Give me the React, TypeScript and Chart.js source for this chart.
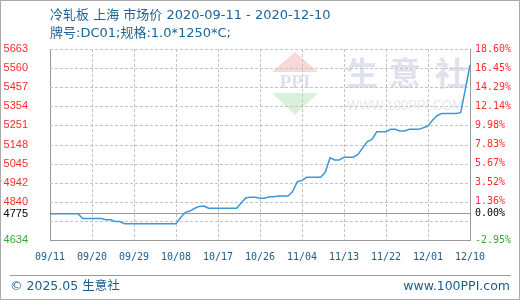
import React, { useEffect, useRef } from "react";
import { Chart, registerables } from "chart.js";

Chart.register(...registerables);

// ---- data ----
const titleLine1 = "冷轧板 上海 市场价 2020-09-11 - 2020-12-10";
const titleLine2 = "牌号:DC01;规格:1.0*1250*C;";
const footerLeft = "© 2025.05 生意社";
const footerRight = "www.100PPI.com";
const startDate = "2020-09-11";

// daily price, 2020-09-11 .. 2020-12-10 (91 days)
const prices = [
  4775, 4775, 4775, 4775, 4775, 4775, 4775,
  4750, 4750, 4750, 4750, 4750,
  4743, 4743,
  4733, 4733,
  4722, 4722, 4722, 4722, 4722, 4722, 4722, 4722, 4722, 4722, 4722, 4722,
  4755, 4783, 4790, 4805, 4815, 4817,
  4805, 4805, 4805, 4805, 4805, 4805, 4805,
  4835, 4862,
  4864, 4864, 4859, 4859, 4867, 4867,
  4871, 4871, 4871,
  4895, 4948, 4955,
  4972, 4972, 4972, 4972,
  5000, 5077,
  5065, 5065, 5080, 5080, 5080,
  5095, 5130, 5164, 5176,
  5217, 5217, 5217,
  5230, 5230, 5221, 5221, 5230, 5230, 5230,
  5239, 5248, 5280, 5305,
  5316, 5316, 5316, 5316,
  5320, 5446, 5577,
];

const baseValue = 4775;
const baseLabelLeft = "4775";
const baseLabelRight = "0.00%";
const yTickValues = [4634, 4736.9, 4839.8, 4942.7, 5045.6, 5148.5, 5251.4, 5354.3, 5457.2, 5560.1, 5663];
const yTickLabelsLeft = ["4634", "", "4840", "4942", "5045", "5148", "5251", "5354", "5457", "5560", "5663"];
const yTickLabelsRight = ["-2.95%", "", "1.36%", "3.52%", "5.67%", "7.83%", "9.98%", "12.14%", "14.29%", "16.45%", "18.60%"];
const xTickStep = 9;

// ---- helpers ----
function dayLabel(day: number): string {
  const d = new Date(startDate + "T00:00:00Z");
  d.setUTCDate(d.getUTCDate() + day);
  const m = String(d.getUTCMonth() + 1).padStart(2, "0");
  const dd = String(d.getUTCDate()).padStart(2, "0");
  return m + "/" + dd;
}

const RED = "#ff2b2b";
const GREEN = "#33aa33";
const BLACK = "#000000";
const BLUE_TEXT = "#1a5c8c";
const GRID = "#c4c4c4";

const isBase = (v: number) => Math.abs(v - baseValue) < 0.01;
const isMin = (v: number) => Math.abs(v - yTickValues[0]) < 0.01;

function tickColor(v: number) {
  if (isBase(v)) return BLACK;
  if (isMin(v)) return GREEN;
  return RED;
}

function labelFor(v: number, right: boolean) {
  if (isBase(v)) return right ? baseLabelRight : baseLabelLeft;
  const i = yTickValues.findIndex((t) => Math.abs(t - v) < 0.01);
  if (i < 0) return "";
  return right ? yTickLabelsRight[i] : yTickLabelsLeft[i];
}

function buildYTicks(scale: any) {
  const vals = [...yTickValues, baseValue].sort((a, b) => a - b);
  scale.ticks = vals.map((v) => ({ value: v }));
}

const watermarkPlugin = {
  id: "watermark",
  beforeDraw(chart: any) {
    const ctx = chart.ctx;
    ctx.save();
    ctx.fillStyle = "#ffffff";
    ctx.fillRect(0, 0, chart.width, chart.height);
    ctx.fillStyle = "#f8d8d8";
    ctx.beginPath();
    ctx.moveTo(295, 52);
    ctx.lineTo(318, 72);
    ctx.lineTo(272, 72);
    ctx.closePath();
    ctx.fill();
    ctx.fillStyle = "#d9f0dc";
    ctx.beginPath();
    ctx.moveTo(272, 93);
    ctx.lineTo(318, 93);
    ctx.lineTo(295, 115);
    ctx.closePath();
    ctx.fill();
    ctx.fillStyle = "#dde1ee";
    ctx.font = 'bold 19px "Liberation Serif"';
    ctx.textAlign = "center";
    ctx.textBaseline = "middle";
    ctx.fillText("PPI", 295, 83, 46);
    ctx.fillStyle = "#dfe2ec";
    ctx.font = 'bold 32px "Noto Sans CJK SC"';
    const chars = ["生", "意", "社"];
    const cx = [362, 405, 451];
    chars.forEach((c, i) => ctx.fillText(c, cx[i], 73));
    ctx.fillStyle = "#e6e8ee";
    ctx.font = '15px "Liberation Sans"';
    ctx.textAlign = "left";
    ctx.fillText("WWW.100PPI.COM", 347, 106, 116);
    ctx.restore();
  },
};

// dashed grid at the positions of the chart's own scale values
const gridPlugin = {
  id: "dashedGrid",
  beforeDatasetsDraw(chart: any) {
    const ctx = chart.ctx;
    const xs = chart.scales.x;
    const ys = chart.scales.y;
    const L = Math.round(xs.getPixelForValue(0));
    const R = Math.round(xs.getPixelForValue(prices.length - 1));
    const T = Math.round(ys.getPixelForValue(yTickValues[yTickValues.length - 1]));
    const B = Math.round(ys.getPixelForValue(yTickValues[0]));
    ctx.save();
    ctx.fillStyle = GRID;
    for (let d = xTickStep; d < prices.length - 1; d += xTickStep) {
      const px = Math.round(xs.getPixelForValue(d));
      for (let y = T; y < B; y += 5) ctx.fillRect(px, y, 1, Math.min(3, B - y));
    }
    for (let i = 1; i < yTickValues.length; i++) {
      const py = Math.round(ys.getPixelForValue(yTickValues[i]));
      for (let x = L; x < R; x += 5) ctx.fillRect(x, py, Math.min(3, R - x), 1);
    }
    ctx.fillStyle = "#999999";
    const by = Math.floor(ys.getPixelForValue(baseValue));
    ctx.fillRect(L, by, R - L, 1);
    ctx.restore();
  },
};

export default function App() {
  const ref = useRef<HTMLCanvasElement | null>(null);

  useEffect(() => {
    if (!ref.current) return;
    const data = prices.map((p, i) => ({ x: i, y: p }));
    const chart = new Chart(ref.current, {
      type: "line",
      data: {
        datasets: [
          {
            data,
            borderColor: "#3a98d8",
            borderWidth: 1.5,
            pointRadius: 0,
            tension: 0,
            fill: false,
          },
        ],
      },
      plugins: [watermarkPlugin, gridPlugin],
      options: {
        responsive: false,
        animation: false,
        events: [],
        layout: { padding: { top: 49, left: 0, right: 0, bottom: 0 } },
        plugins: { legend: { display: false }, tooltip: { enabled: false }, title: { display: false } },
        scales: {
          x: {
            type: "linear",
            min: 0,
            max: prices.length - 1,
            afterFit: (s: any) => {
              s.height = 60;
            },
            afterBuildTicks: (s: any) => {
              const t = [];
              for (let d = 0; d <= prices.length - 1; d += xTickStep) t.push({ value: d });
              s.ticks = t;
            },
            ticks: {
              autoSkip: false,
              maxRotation: 0,
              padding: 11,
              color: BLUE_TEXT,
              font: { family: '"DejaVu Sans Mono"', size: 10 },
              callback: (v: any) => dayLabel(Number(v)),
            },
            grid: { display: false, drawTicks: false },
            border: { display: true, color: "#999999", width: 1 },
          },
          y: {
            position: "left",
            min: yTickValues[0],
            max: yTickValues[yTickValues.length - 1],
            afterFit: (s: any) => {
              s.width = 50;
            },
            afterBuildTicks: buildYTicks,
            ticks: {
              autoSkip: false,
              padding: 22,
              color: (c: any) => tickColor(c.tick ? c.tick.value : 0),
              font: { family: '"Liberation Sans"', size: 11 },
              callback: (v: any) => labelFor(Number(v), false),
            },
            grid: { display: false, drawTicks: false },
            border: { display: true, color: "#999999", width: 1 },
          },
          y2: {
            position: "right",
            min: yTickValues[0],
            max: yTickValues[yTickValues.length - 1],
            afterFit: (s: any) => {
              s.width = 50;
            },
            afterBuildTicks: buildYTicks,
            ticks: {
              autoSkip: false,
              padding: 5,
              color: (c: any) => tickColor(c.tick ? c.tick.value : 0),
              font: { family: '"DejaVu Sans Mono"', size: 10 },
              callback: (v: any) => labelFor(Number(v), true),
            },
            grid: { display: false, drawTicks: false },
            border: { display: true, color: "#999999", width: 1 },
          },
        },
      },
    } as any);
    return () => chart.destroy();
  }, []);

  const textFont = '"DejaVu Sans", "Noto Sans CJK SC", sans-serif';
  return (
    <div style={{ position: "absolute", left: 0, top: 0, width: 520, height: 300, background: "#fff", overflow: "hidden" }}>
      <canvas ref={ref} width={520} height={300} style={{ position: "absolute", left: 0, top: 0, width: 520, height: 300 }} />
      <div
        style={{
          position: "absolute",
          left: 50,
          top: 6,
          font: "13px " + textFont,
          lineHeight: "18px",
          color: "#1a6496",
          whiteSpace: "nowrap",
        }}
      >
        <div>{titleLine1}</div>
        <div>{titleLine2}</div>
      </div>
      <div style={{ position: "absolute", left: 10, top: 275, width: 501, height: 0, borderTop: "1px solid #999" }} />
      <div
        style={{
          position: "absolute",
          left: 10,
          top: 277,
          font: "12.5px " + textFont,
          lineHeight: "18px",
          color: "#1a5c8c",
          whiteSpace: "nowrap",
        }}
      >
        {footerLeft}
      </div>
      <div
        style={{
          position: "absolute",
          right: 10,
          top: 277,
          font: "12.5px " + textFont,
          lineHeight: "18px",
          color: "#1a5c8c",
          whiteSpace: "nowrap",
        }}
      >
        {footerRight}
      </div>
      <div
        style={{
          position: "absolute",
          left: 0,
          top: 0,
          width: 520,
          height: 300,
          boxSizing: "border-box",
          border: "1px solid #aaaaaa",
          pointerEvents: "none",
        }}
      />
    </div>
  );
}
